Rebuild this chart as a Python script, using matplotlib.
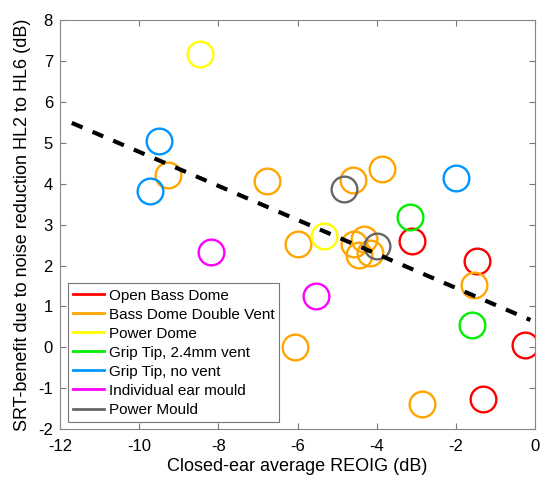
import matplotlib.pyplot as plt

plt.rcParams['font.family'] = ['Liberation Sans', 'DejaVu Sans']
plt.rcParams['axes.unicode_minus'] = False

categories = ['Open Bass Dome', 'Bass Dome Double Vent', 'Power Dome',
              'Grip Tip, 2.4mm vent', 'Grip Tip, no vent',
              'Individual ear mould', 'Power Mould']
colors = ['#ff0000', '#ffa500', '#ffff00', '#00ee00', '#0096ff', '#ff00ff', '#666666']

open_bass_x = [-3.12, -1.48, -0.25, -1.31]
open_bass_y = [2.60, 2.12, 0.07, -1.26]
double_vent_x = [-9.26, -6.77, -4.61, -3.87, -5.98, -4.57, -4.31, -4.44, -4.17, -1.55, -6.06, -2.86]
double_vent_y = [4.21, 4.06, 4.09, 4.37, 2.52, 2.52, 2.64, 2.25, 2.30, 1.53, 0.01, -1.39]
power_dome_x = [-8.46, -5.33]
power_dome_y = [7.16, 2.72]
grip_vent_x = [-3.16, -1.59]
grip_vent_y = [3.19, 0.54]
grip_novent_x = [-9.50, -9.72, -1.99]
grip_novent_y = [5.05, 3.83, 4.15]
ear_mould_x = [-8.18, -5.54]
ear_mould_y = [2.32, 1.26]
power_mould_x = [-4.83, -4.00]
power_mould_y = [3.88, 2.47]

xs = [open_bass_x, double_vent_x, power_dome_x, grip_vent_x, grip_novent_x, ear_mould_x, power_mould_x]
ys = [open_bass_y, double_vent_y, power_dome_y, grip_vent_y, grip_novent_y, ear_mould_y, power_mould_y]

# regression line
fit_x = [-11.7, -0.12]
fit_slope, fit_icpt = -0.416, 0.62

fig = plt.figure(figsize=(5.4, 4.79), dpi=100)
ax = fig.add_axes([0.111, 0.104, 0.880, 0.854])

for cat, c, x, y in zip(categories, colors, xs, ys):
    ax.plot(x, y, 'o', ms=18.5, mfc='none', mec=c, mew=1.7, linestyle='none')
    ax.plot([], [], '-', color=c, lw=2, label=cat)

ax.plot(fit_x, [fit_slope * v + fit_icpt for v in fit_x], '--', color='k', lw=3, dashes=(2.8, 2.6))

ax.set_xlim(-12, 0)
ax.set_ylim(-2, 8)
ax.set_xticks(range(-12, 1, 2))
ax.set_yticks(range(-2, 9, 1))
ax.tick_params(direction='in', top=True, right=True, labelsize=12, length=4, color='#777777')
ax.tick_params(axis='y', pad=5)
ax.tick_params(axis='x', pad=7)
for s in ax.spines.values():
    s.set_color('#888888')
    s.set_linewidth(0.8)
ax.set_xlabel('Closed-ear average REOIG (dB)', fontsize=13, labelpad=3)
ax.set_ylabel('SRT-benefit due to noise reduction HL2 to HL6 (dB)', fontsize=13, labelpad=5)

leg = ax.legend(loc='lower left', fontsize=11, handlelength=2.0, handletextpad=0.3,
                borderpad=0.35, labelspacing=0.33, fancybox=False, framealpha=1,
                edgecolor='#777777', borderaxespad=0, bbox_to_anchor=(0.017, 0.017))
leg.get_frame().set_linewidth(0.8)

fig.savefig('out.png', dpi=100)
